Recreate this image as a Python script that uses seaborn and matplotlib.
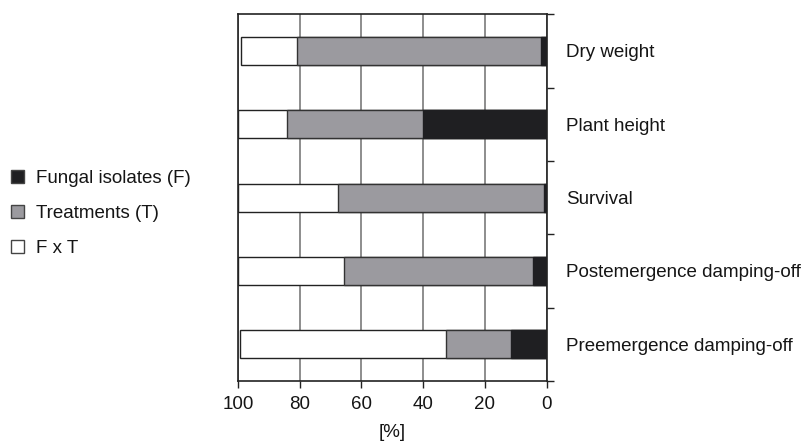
import matplotlib
matplotlib.use('Agg')
import matplotlib.pyplot as plt
import seaborn as sns
import pandas as pd
from matplotlib.patches import Patch

# values (percent of variance)
traits = ['Dry weight', 'Plant height', 'Survival',
          'Postemergence damping-off', 'Preemergence damping-off']
fungal = [2, 40, 1, 4.5, 11.5]
treatments = [79, 44, 66.5, 61, 21]
interaction = [18, 16, 32.5, 34.5, 67]

sns.set_style('white')
plt.rcParams['font.family'] = ['Liberation Sans', 'DejaVu Sans']
plt.rcParams['text.color'] = '#151515'
plt.rcParams['xtick.color'] = '#151515'
plt.rcParams['ytick.color'] = '#151515'
plt.rcParams['axes.labelcolor'] = '#151515'

df = pd.DataFrame({'trait': traits, 'F': fungal, 'T': treatments, 'FxT': interaction})
df['FT'] = df['F'] + df['T']
df['total'] = df['FT'] + df['FxT']

fig, ax = plt.subplots(figsize=(8.04, 4.43), dpi=100)
fig.subplots_adjust(left=0.296, right=0.680, top=0.968, bottom=0.140)

# stacked bars: draw cumulative totals, largest first
sns.barplot(data=df, x='total', y='trait', color='white', edgecolor='#222222',
            linewidth=1, width=0.38, saturation=1, ax=ax)
sns.barplot(data=df, x='FT', y='trait', color='#9b9a9f', edgecolor='#333333',
            linewidth=1, width=0.38, saturation=1, ax=ax)
sns.barplot(data=df, x='F', y='trait', color='#1f1f22', edgecolor='#1f1f22',
            linewidth=1, width=0.38, saturation=1, ax=ax)

ax.set_xlim(100, 0)
ax.set_ylim(4.5, -0.5)
ax.set_xticks([100, 80, 60, 40, 20, 0])
ax.xaxis.grid(True, color='#7a7a7a', lw=1.2)
ax.yaxis.grid(False)
ax.set_axisbelow(True)

ax.yaxis.tick_right()
ax.set_yticks(range(len(traits)))
ax.set_yticklabels(traits)
ax.set_yticks([i - 0.5 for i in range(len(traits) + 1)], minor=True)
ax.tick_params(axis='y', which='major', length=0, pad=14, labelsize=13.5)
ax.tick_params(axis='y', which='minor', right=True, left=False, length=5,
               direction='out', width=1, color='#222222')
ax.tick_params(axis='x', bottom=True, length=5, direction='out', width=1,
               color='#222222', labelsize=13.5, pad=6)

for s in ax.spines.values():
    s.set_color('#222222')
    s.set_linewidth(1.2)

ax.set_ylabel('')
ax.set_xlabel('[%]', fontsize=13.5, labelpad=8)

handles = [Patch(facecolor='#1f1f22', edgecolor='#444444', label='Fungal isolates (F)'),
           Patch(facecolor='#9b9a9f', edgecolor='#444444', label='Treatments (T)'),
           Patch(facecolor='white', edgecolor='#444444', label='F x T')]
fig.legend(handles=handles, loc='upper left', bbox_to_anchor=(0.014, 0.617),
           frameon=False, handlelength=0.7, handleheight=0.7, handletextpad=0.6,
           labelspacing=0.95, fontsize=13.5, borderpad=0, borderaxespad=0)

plt.savefig('out.png', dpi=100)
